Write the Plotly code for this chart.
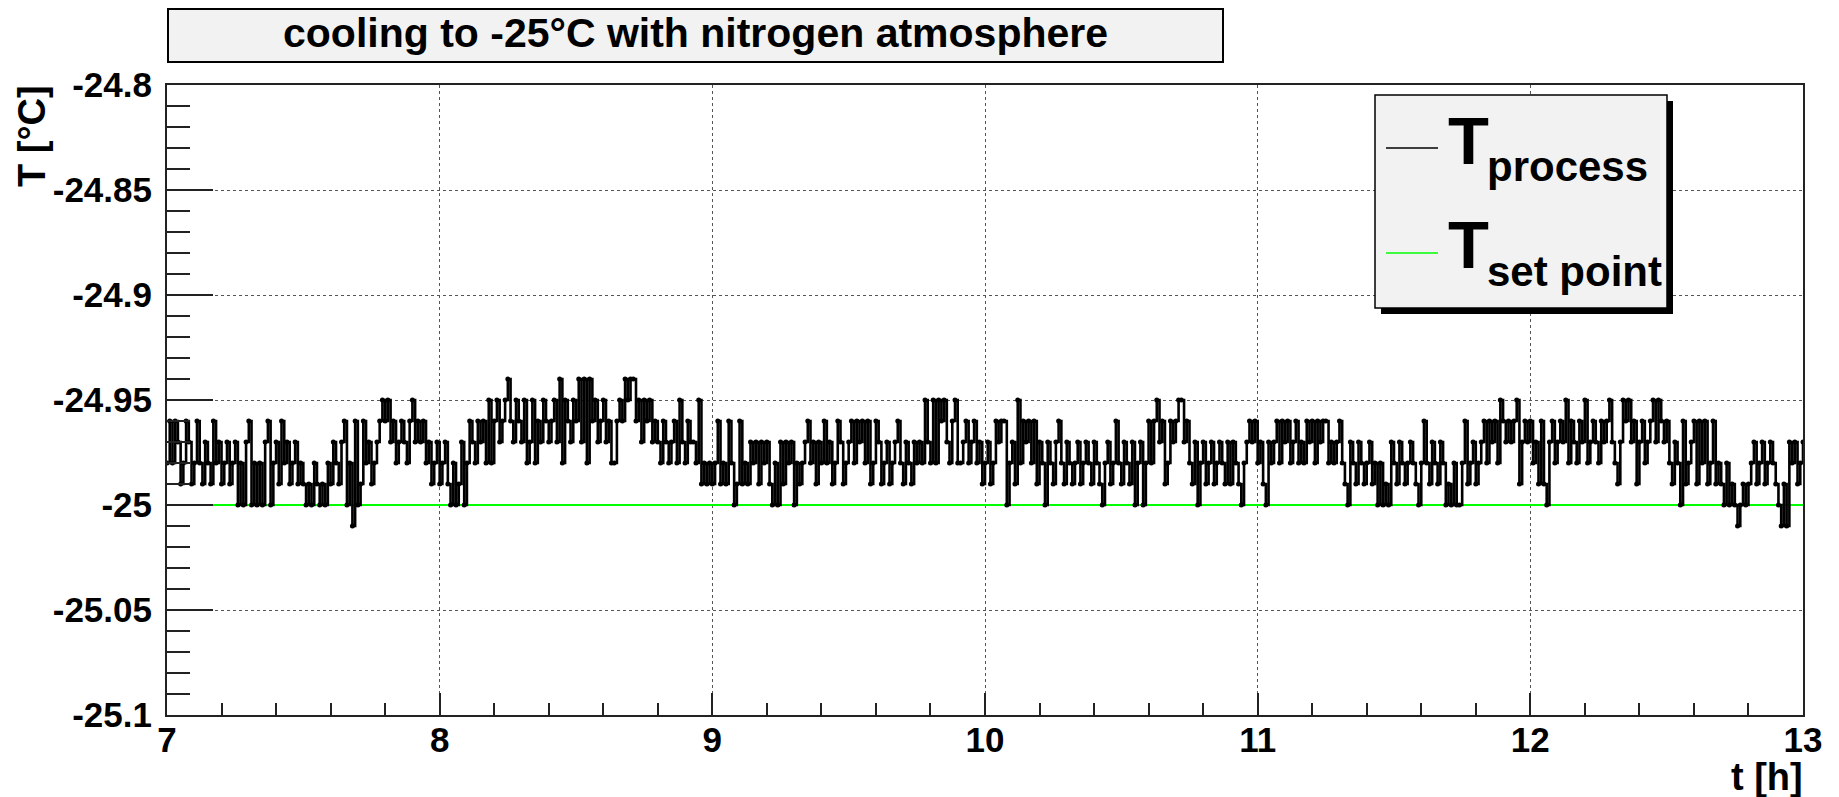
import plotly.graph_objects as go

# ---------------- data (temperatures in 0.01 degC units) ----------------
T_START_H = 7.0
T_STEP_H = 0.01

T_h07 = [-2498,-2496,-2498,-2496,-2497,-2499,-2498,-2496,-2497,-2499,
         -2498,-2496,-2498,-2499,-2497,-2498,-2499,-2496,-2498,-2497,
         -2499,-2498,-2497,-2499,-2498,-2497,-2500,-2498,-2500,-2497,
         -2496,-2500,-2498,-2500,-2498,-2500,-2497,-2496,-2500,-2498,
         -2497,-2499,-2496,-2498,-2497,-2499,-2498,-2497,-2499,-2498,
         -2499,-2500,-2499,-2500,-2498,-2499,-2500,-2499,-2500,-2498,
         -2499,-2497,-2498,-2499,-2497,-2496,-2500,-2498,-2501,-2496,
         -2500,-2499,-2496,-2498,-2497,-2499,-2498,-2497,-2496,-2495,
         -2496,-2495,-2497,-2496,-2498,-2497,-2496,-2497,-2498,-2496,
         -2495,-2497,-2496,-2497,-2496,-2498,-2497,-2499,-2498]
T_h08 = [-2497,-2499,-2498,-2497,-2499,-2500,-2498,-2500,-2499,-2497,
         -2500,-2498,-2496,-2497,-2498,-2496,-2497,-2496,-2498,-2495,
         -2498,-2496,-2495,-2497,-2496,-2495,-2494,-2496,-2497,-2495,
         -2496,-2497,-2495,-2498,-2497,-2495,-2498,-2496,-2497,-2495,
         -2496,-2497,-2496,-2495,-2497,-2494,-2498,-2495,-2496,-2497,
         -2495,-2496,-2494,-2497,-2494,-2498,-2494,-2496,-2495,-2497,
         -2496,-2495,-2497,-2496,-2498,-2498,-2496,-2495,-2496,-2494,
         -2495,-2494,-2494,-2496,-2495,-2497,-2495,-2496,-2495,-2497,
         -2496,-2497,-2498,-2496,-2497,-2498,-2497,-2496,-2498,-2495,
         -2497,-2498,-2496,-2497,-2497,-2498,-2495,-2499,-2498]
T_h09 = [-2499,-2498,-2499,-2498,-2496,-2499,-2498,-2499,-2496,-2498,
         -2500,-2499,-2496,-2499,-2498,-2499,-2497,-2498,-2497,-2499,
         -2497,-2498,-2497,-2499,-2500,-2498,-2500,-2497,-2499,-2497,
         -2498,-2497,-2500,-2498,-2499,-2498,-2497,-2496,-2498,-2497,
         -2499,-2497,-2498,-2496,-2498,-2497,-2499,-2498,-2496,-2497,
         -2499,-2498,-2497,-2496,-2498,-2496,-2497,-2496,-2498,-2496,
         -2499,-2498,-2496,-2497,-2499,-2498,-2497,-2499,-2498,-2497,
         -2496,-2498,-2499,-2497,-2498,-2499,-2497,-2498,-2497,-2498,
         -2495,-2497,-2498,-2495,-2498,-2495,-2496,-2495,-2497,-2498,
         -2496,-2495,-2498,-2498,-2497,-2496,-2498,-2497,-2496]
T_h10 = [-2498,-2497,-2499,-2498,-2497,-2499,-2498,-2496,-2497,-2496,
         -2496,-2500,-2498,-2497,-2499,-2495,-2498,-2496,-2497,-2496,
         -2498,-2496,-2499,-2497,-2498,-2500,-2497,-2498,-2499,-2497,
         -2496,-2498,-2499,-2497,-2498,-2499,-2498,-2497,-2499,-2498,
         -2497,-2498,-2499,-2497,-2498,-2499,-2500,-2498,-2497,-2499,
         -2498,-2496,-2498,-2499,-2497,-2498,-2499,-2497,-2500,-2498,
         -2497,-2500,-2498,-2496,-2498,-2496,-2495,-2497,-2496,-2499,
         -2498,-2496,-2497,-2496,-2495,-2495,-2497,-2496,-2498,-2499,
         -2497,-2500,-2498,-2497,-2499,-2498,-2497,-2499,-2498,-2497,
         -2498,-2499,-2497,-2499,-2497,-2498,-2499,-2500,-2498]
T_h11 = [-2497,-2496,-2497,-2496,-2498,-2497,-2499,-2500,-2497,-2498,
         -2497,-2496,-2498,-2496,-2497,-2496,-2498,-2497,-2496,-2498,
         -2497,-2498,-2496,-2497,-2496,-2498,-2496,-2497,-2496,-2496,
         -2498,-2497,-2498,-2497,-2496,-2498,-2499,-2500,-2497,-2498,
         -2499,-2497,-2498,-2499,-2498,-2497,-2499,-2498,-2500,-2498,
         -2500,-2499,-2500,-2497,-2498,-2499,-2497,-2498,-2499,-2498,
         -2497,-2498,-2499,-2500,-2498,-2496,-2498,-2499,-2497,-2498,
         -2499,-2497,-2498,-2500,-2499,-2500,-2498,-2500,-2500,-2498,
         -2496,-2499,-2498,-2497,-2499,-2498,-2497,-2496,-2498,-2496,
         -2497,-2496,-2498,-2495,-2496,-2497,-2496,-2497,-2496]
T_h12 = [-2495,-2499,-2497,-2496,-2497,-2496,-2498,-2497,-2499,-2496,
         -2499,-2500,-2497,-2496,-2498,-2497,-2496,-2497,-2495,-2498,
         -2496,-2497,-2498,-2496,-2497,-2495,-2498,-2497,-2496,-2497,
         -2498,-2496,-2497,-2496,-2495,-2497,-2498,-2499,-2497,-2495,
         -2496,-2495,-2497,-2496,-2499,-2497,-2496,-2498,-2497,-2496,
         -2495,-2497,-2495,-2496,-2497,-2496,-2498,-2499,-2497,-2498,
         -2500,-2496,-2499,-2498,-2497,-2496,-2499,-2496,-2498,-2496,
         -2499,-2498,-2496,-2499,-2498,-2499,-2500,-2498,-2500,-2499,
         -2500,-2501,-2500,-2499,-2500,-2499,-2498,-2497,-2499,-2498,
         -2497,-2499,-2498,-2497,-2498,-2499,-2500,-2501,-2499,-2501,
         -2497,-2498,-2497,-2499,-2498,-2497]

T_process_centi = T_h07 + T_h08 + T_h09 + T_h10 + T_h11 + T_h12
T_process = [v / 100.0 for v in T_process_centi]
t_process = [round(T_START_H + i * T_STEP_H, 4) for i in range(len(T_process))]

t_setpoint = [7.0, 13.0]
T_setpoint = [-25.0, -25.0]

x_tick_vals = [7, 8, 9, 10, 11, 12, 13]
x_tick_text = ["7", "8", "9", "10", "11", "12", "13"]
y_tick_vals = [-25.1, -25.05, -25.0, -24.95, -24.9, -24.85, -24.8]
y_tick_text = ["-25.1", "-25.05", "-25", "-24.95", "-24.9", "-24.85", "-24.8"]

title_text = "cooling to -25°C with nitrogen atmosphere"
x_title = "t [h]"
y_title = "T [°C]"
legend_main = ["T", "T"]
legend_sub = ["process", "set point"]
series_colors = ["#000000", "#00ff00"]

# ---------------- layout helpers ----------------
FONT = "Liberation Sans, Arial, Helvetica, sans-serif"
W, H = 1839, 797
L, R, T, B = 167, 1803, 85, 715


def fx(px):
    return (px - L) / (R - L)


def fy(py):
    return (B - py) / (B - T)


fig = go.Figure()
fig.add_trace(go.Scatter(
    x=t_setpoint, y=T_setpoint, mode="lines", name="T set point",
    line=dict(color=series_colors[1], width=2), showlegend=False,
    hoverinfo="skip"))
fig.add_trace(go.Scatter(
    x=t_process, y=T_process, mode="lines+markers", name="T process",
    line=dict(color=series_colors[0], width=2.6, shape="hv", simplify=False),
    marker=dict(color=series_colors[0], size=5, symbol="circle"),
    showlegend=False))

axis_common = dict(
    showline=True, linewidth=2, linecolor="#222222", mirror=True,
    ticks="inside", tickwidth=2, tickcolor="#222222",
    showgrid=True, gridcolor="#555555", gridwidth=1, griddash="dot",
    zeroline=False,
    tickfont=dict(family=FONT, size=35, color="black", weight="bold"),
)

fig.update_xaxes(
    range=[7, 13], tickmode="array", tickvals=x_tick_vals, ticktext=x_tick_text,
    ticklen=22, ticklabelstandoff=-7,
    minor=dict(ticks="inside", ticklen=12, tickwidth=2, tickcolor="#222222",
               tickmode="linear", tick0=7, dtick=0.2, showgrid=False),
    **axis_common)
fig.update_yaxes(
    range=[-25.1, -24.8], tickmode="array", tickvals=y_tick_vals, ticktext=y_tick_text,
    ticklen=46, ticklabelstandoff=6,
    minor=dict(ticks="inside", ticklen=23, tickwidth=2, tickcolor="#222222",
               tickmode="linear", tick0=-25.1, dtick=0.01, showgrid=False),
    **axis_common)

shapes = []
annotations = []

# title box
shapes.append(dict(type="rect", xref="paper", yref="paper",
                   x0=fx(168), x1=fx(1223), y0=fy(62), y1=fy(9),
                   fillcolor="#f2f2f2", line=dict(color="black", width=2)))
annotations.append(dict(xref="paper", yref="paper", x=fx(695), y=fy(33),
                        xanchor="center", yanchor="middle", showarrow=False,
                        text=title_text,
                        font=dict(family=FONT, size=41, color="black", weight="bold")))

# legend box with shadow
shapes.append(dict(type="rect", xref="paper", yref="paper",
                   x0=fx(1381), x1=fx(1673), y0=fy(314), y1=fy(101),
                   fillcolor="black", line=dict(width=0)))
shapes.append(dict(type="rect", xref="paper", yref="paper",
                   x0=fx(1375), x1=fx(1667), y0=fy(308), y1=fy(95),
                   fillcolor="#f2f2f2", line=dict(color="black", width=1.5)))
legend_line_y = [148, 253]
legend_main_y = [140, 244]
legend_sub_y = [166, 271]
for i in range(2):
    shapes.append(dict(type="line", xref="paper", yref="paper",
                       x0=fx(1386), x1=fx(1438),
                       y0=fy(legend_line_y[i]), y1=fy(legend_line_y[i]),
                       line=dict(color=series_colors[i], width=1.5)))
    annotations.append(dict(xref="paper", yref="paper", x=fx(1446), y=fy(legend_main_y[i]),
                            xanchor="left", yanchor="middle", showarrow=False,
                            text=legend_main[i],
                            font=dict(family=FONT, size=67, color="black", weight="bold")))
    annotations.append(dict(xref="paper", yref="paper", x=fx(1485), y=fy(legend_sub_y[i]),
                            xanchor="left", yanchor="middle", showarrow=False,
                            text=legend_sub[i],
                            font=dict(family=FONT, size=42, color="black", weight="bold")))

# axis titles
annotations.append(dict(xref="paper", yref="paper", x=fx(1805), y=fy(777),
                        xanchor="right", yanchor="middle", showarrow=False,
                        text=x_title,
                        font=dict(family=FONT, size=38, color="black", weight="bold")))
annotations.append(dict(xref="paper", yref="paper", x=fx(32), y=fy(83),
                        xanchor="center", yanchor="top", showarrow=False,
                        textangle=-90, text=y_title,
                        font=dict(family=FONT, size=38, color="black", weight="bold")))

fig.update_layout(
    width=W, height=H,
    margin=dict(l=L, r=W - R, t=T, b=H - B, pad=0),
    paper_bgcolor="white", plot_bgcolor="white",
    showlegend=False,
    shapes=shapes, annotations=annotations,
    font=dict(family=FONT, color="black"),
)

fig.write_html("out.html")
